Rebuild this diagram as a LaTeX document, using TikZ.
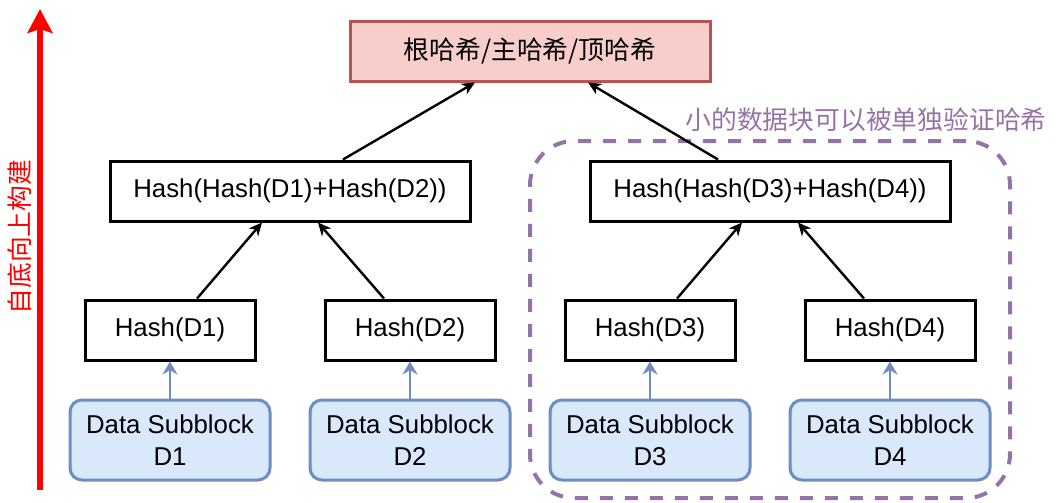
\documentclass[tikz,border=0pt]{standalone}
\usepackage{fontspec}
\setmainfont{Liberation Sans}
\newfontfamily\cjk{Noto Sans CJK SC}
\usetikzlibrary{arrows.meta}
\definecolor{rootfill}{HTML}{F8CECC}
\definecolor{rootline}{HTML}{B85450}
\definecolor{datafill}{HTML}{DAE8FC}
\definecolor{dataline}{HTML}{6C8EBF}
\definecolor{grpline}{HTML}{9673A6}
\definecolor{upred}{HTML}{FF0000}
\begin{document}
\begin{tikzpicture}[x=0.5pt,y=-0.5pt,
  every node/.style={font=\fontsize{12.9}{16}\selectfont, inner sep=0pt},
  rootbox/.style={draw=rootline, fill=rootfill, line width=1.5pt, minimum width=180pt, minimum height=30pt},
  hashbox/.style={draw=black, fill=white, line width=1.5pt, minimum height=30pt},
  databox/.style={draw=dataline, fill=datafill, line width=1.5pt, rounded corners=6pt, minimum width=100pt, minimum height=40pt, align=center},
  grpbox/.style={draw=grpline, line width=2pt, dash pattern=on 6.5pt off 6pt, rounded corners=22pt, minimum width=240pt, minimum height=178.5pt},
  blk/.style={draw=black, line width=1.2pt, -{Stealth[length=6.5pt,width=6pt,inset=2pt]}},
  blu/.style={draw=dataline, line width=1.2pt, -{Stealth[length=6.5pt,width=7.5pt,inset=2.2pt]}},
  redarrow/.style={draw=upred, line width=3pt, -{Stealth[length=12pt,width=12.5pt,inset=2pt]}}
]
\useasboundingbox (0,0) rectangle (1061,503);

% group box
\node[grpbox] (grp) at (770,319.5) {};
\node[text=grpline] (grplabel) at (866,120) {\cjk 小的数据块可以被单独验证哈希};

% root
\node[rootbox] (root) at (530,51) {\cjk 根哈希/主哈希/顶哈希};

% middle
\node[hashbox, minimum width=180pt] (m1) at (290,191) {Hash(Hash(D1)+Hash(D2))};
\node[hashbox, minimum width=180pt] (m2) at (770,191) {Hash(Hash(D3)+Hash(D4))};

% leaves
\node[hashbox, minimum width=85pt] (h1) at (170,330) {Hash(D1)};
\node[hashbox, minimum width=85pt] (h2) at (410,330) {Hash(D2)};
\node[hashbox, minimum width=85pt] (h3) at (650,330) {Hash(D3)};
\node[hashbox, minimum width=85pt] (h4) at (890,330) {Hash(D4)};

% data
\node[databox] (d1) at (170,440) {Data Subblock\\D1};
\node[databox] (d2) at (410,440) {Data Subblock\\D2};
\node[databox] (d3) at (650,440) {Data Subblock\\D3};
\node[databox] (d4) at (890,440) {Data Subblock\\D4};

% arrows
\draw[blk] ([xshift=26.5pt]m1.north) -- ([xshift=-27.5pt]root.south);
\draw[blk] ([xshift=-26pt]m2.north) -- ([xshift=29pt]root.south);
\draw[blk] ([xshift=13.5pt]h1.north) -- ([xshift=-14pt]m1.south);
\draw[blk] ([xshift=-13pt]h2.north) -- ([xshift=14pt]m1.south);
\draw[blk] ([xshift=13.5pt]h3.north) -- ([xshift=-14pt]m2.south);
\draw[blk] ([xshift=-13pt]h4.north) -- ([xshift=14pt]m2.south);
\draw[blu] (d1.north) -- (h1.south);
\draw[blu] (d2.north) -- (h2.south);
\draw[blu] (d3.north) -- (h3.south);
\draw[blu] (d4.north) -- (h4.south);

% bottom-up arrow
\coordinate (rb) at (40,490);
\coordinate (rt) at (40,9);
\draw[redarrow] (rb) -- (rt);
\node[text=upred, rotate=90] (uplabel) at (20,237) {\cjk 自底向上构建};
\end{tikzpicture}
\end{document}
